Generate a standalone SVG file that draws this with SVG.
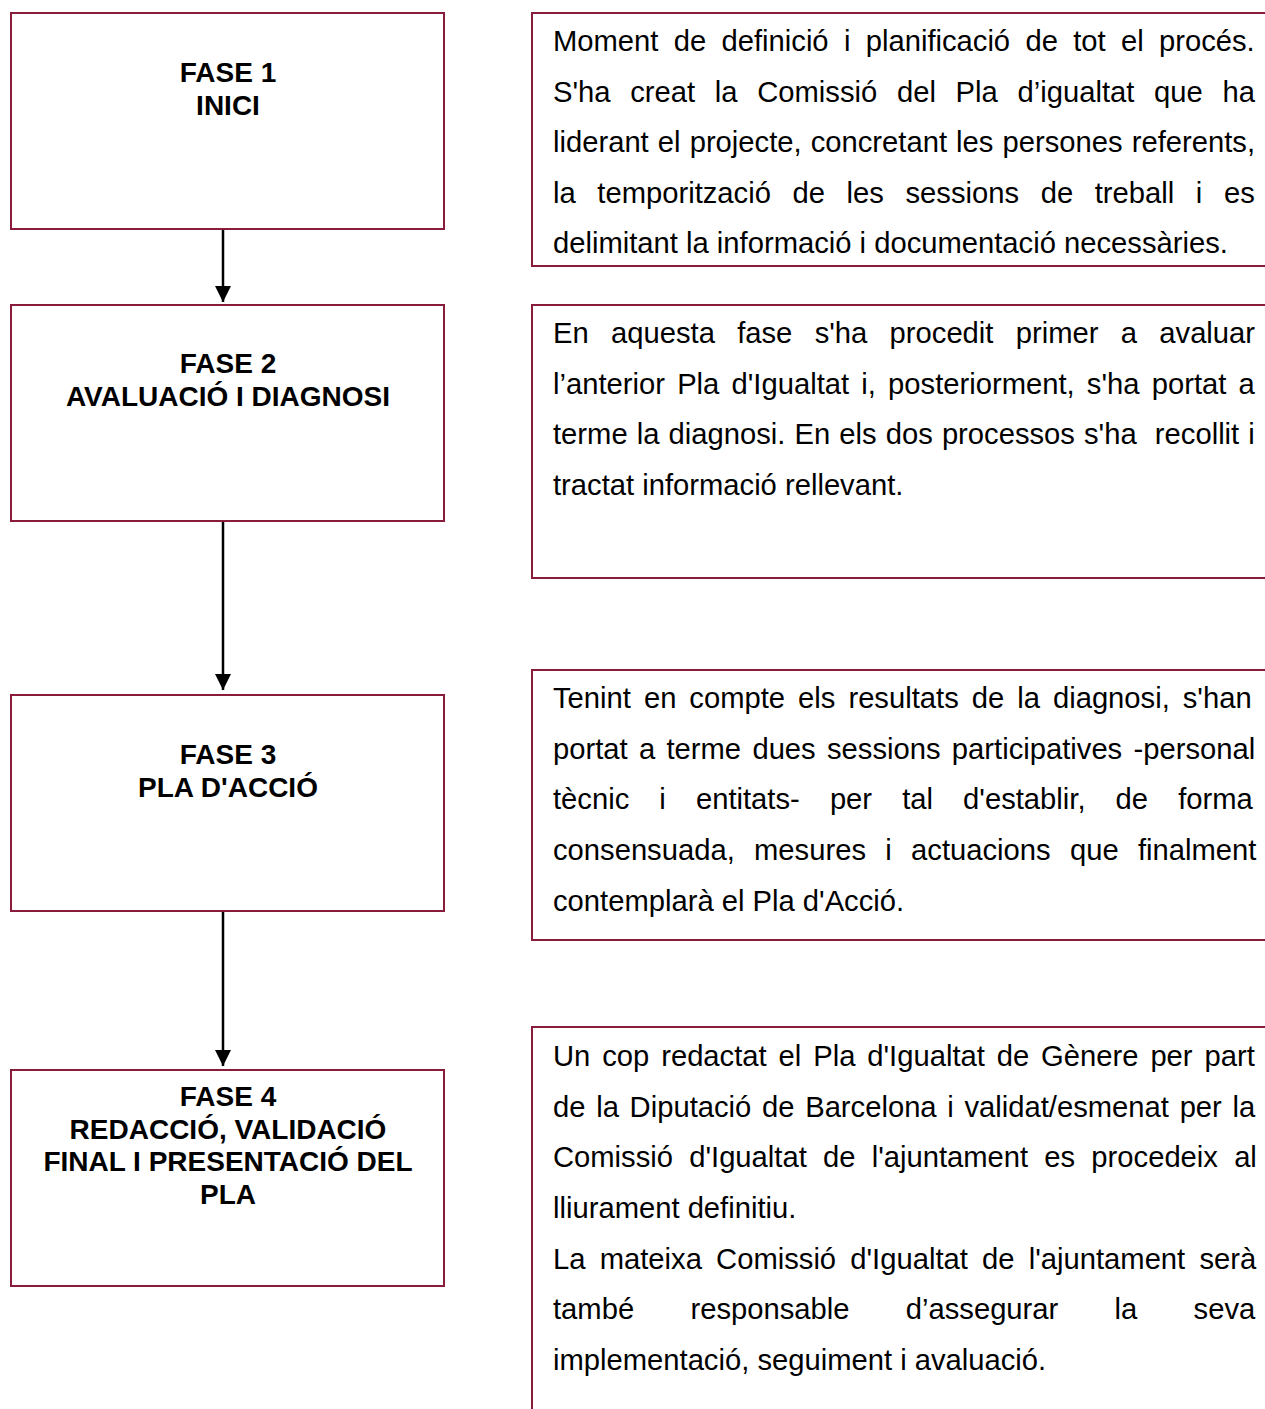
<svg xmlns="http://www.w3.org/2000/svg" width="1265" height="1409" viewBox="0 0 1265 1409">
<style>
.box{fill:#ffffff;stroke:#8a1c3b;stroke-width:2}
.title{font-family:"Liberation Sans",Arial,sans-serif;font-weight:bold;font-size:28px;fill:#000;text-anchor:middle}
.body{font-family:"Liberation Sans",Arial,sans-serif;font-size:29.2px;fill:#000}
.conn{stroke:#000;stroke-width:2.5;fill:none}
</style>
<defs>
<marker id="arr" viewBox="0 0 16 16" refX="16" refY="8" markerWidth="16" markerHeight="16" markerUnits="userSpaceOnUse" orient="auto">
<path d="M0,0 L16,8 L0,16 Z" fill="#000"/>
</marker>
</defs>
<rect width="1265" height="1409" fill="#ffffff"/>

<g id="fase1">
<rect class="box" x="11" y="13" width="433" height="216"/>
<text class="title" x="228" y="82">FASE 1</text>
<text class="title" x="228" y="115">INICI</text>
</g>
<g id="fase2">
<rect class="box" x="11" y="305" width="433" height="216"/>
<text class="title" x="228" y="373">FASE 2</text>
<text class="title" x="228" y="406">AVALUACIÓ I DIAGNOSI</text>
</g>
<g id="fase3">
<rect class="box" x="11" y="695" width="433" height="216"/>
<text class="title" x="228" y="764">FASE 3</text>
<text class="title" x="228" y="797">PLA D'ACCIÓ</text>
</g>
<g id="fase4">
<rect class="box" x="11" y="1070" width="433" height="216"/>
<text class="title" x="228" y="1106">FASE 4</text>
<text class="title" x="228" y="1139">REDACCIÓ, VALIDACIÓ</text>
<text class="title" x="228" y="1171">FINAL I PRESENTACIÓ DEL</text>
<text class="title" x="228" y="1204">PLA</text>
</g>

<g id="desc1">
<rect class="box" x="532" y="13" width="740" height="253"/>
<text class="body" x="553" y="51" word-spacing="7.2">Moment de definició i planificació de tot el procés.</text>
<text class="body" x="553" y="102" word-spacing="11.6">S'ha creat la Comissió del Pla d’igualtat que ha</text>
<text class="body" x="553" y="152" word-spacing="1.0">liderant el projecte, concretant les persones referents,</text>
<text class="body" x="553" y="203" word-spacing="13.5">la temporització de les sessions de treball i es</text>
<text class="body" x="553" y="253">delimitant la informació i documentació necessàries.</text>
</g>
<g id="desc2">
<rect class="box" x="532" y="305" width="740" height="273"/>
<text class="body" x="553" y="343" word-spacing="14.2">En aquesta fase s'ha procedit primer a avaluar</text>
<text class="body" x="553" y="394" word-spacing="4.1">l’anterior Pla d'Igualtat i, posteriorment, s'ha portat a</text>
<text class="body" x="553" y="444" word-spacing="1.0" style="white-space:pre">terme la diagnosi. En els dos processos s'ha  recollit i</text>
<text class="body" x="553" y="495">tractat informació rellevant.</text>
</g>
<g id="desc3">
<rect class="box" x="532" y="670" width="740" height="270"/>
<text class="body" x="553" y="708" word-spacing="4.9">Tenint en compte els resultats de la diagnosi, s'han</text>
<text class="body" x="553" y="759" word-spacing="3.2">portat a terme dues sessions participatives -personal</text>
<text class="body" x="553" y="809" word-spacing="22.0">tècnic i entitats- per tal d'establir, de forma</text>
<text class="body" x="553" y="860" word-spacing="11.2">consensuada, mesures i actuacions que finalment</text>
<text class="body" x="553" y="911">contemplarà el Pla d'Acció.</text>
</g>
<g id="desc4">
<rect class="box" x="532" y="1027" width="740" height="400"/>
<text class="body" x="553" y="1066" word-spacing="3.8">Un cop redactat el Pla d'Igualtat de Gènere per part</text>
<text class="body" x="553" y="1117" word-spacing="2.6">de la Diputació de Barcelona i validat/esmenat per la</text>
<text class="body" x="553" y="1167" word-spacing="8.1">Comissió d'Igualtat de l'ajuntament es procedeix al</text>
<text class="body" x="553" y="1218">lliurament definitiu.</text>
<text class="body" x="553" y="1269" word-spacing="6.1">La mateixa Comissió d'Igualtat de l'ajuntament serà</text>
<text class="body" x="553" y="1319" word-spacing="48.2">també responsable d’assegurar la seva</text>
<text class="body" x="553" y="1370">implementació, seguiment i avaluació.</text>
</g>

<g id="connectors">
<line class="conn" x1="223" y1="230" x2="223" y2="302" marker-end="url(#arr)"/>
<line class="conn" x1="223" y1="522" x2="223" y2="690" marker-end="url(#arr)"/>
<line class="conn" x1="223" y1="912" x2="223" y2="1066" marker-end="url(#arr)"/>
</g>
</svg>
